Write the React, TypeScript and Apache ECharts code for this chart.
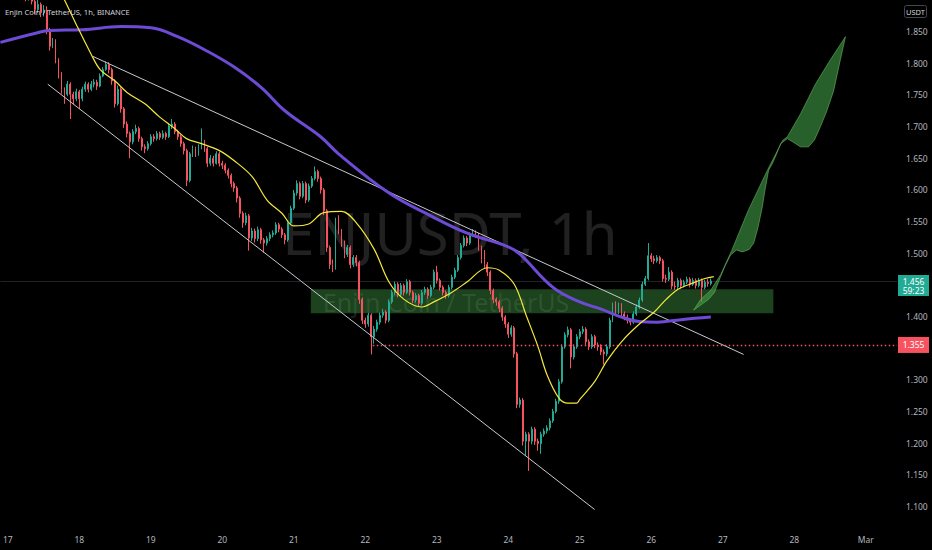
import React, { useEffect, useRef } from "react";
import * as echarts from "echarts";

// ---------- texts ----------
const SYMBOL_TITLE = "Enjin Coin / TetherUS, 1h, BINANCE";
const WATERMARK_MAIN = "ENJUSDT, 1h";
const WATERMARK_SUB = "Enjin Coin / TetherUS";
const QUOTE_CCY = "USDT";
const LAST_PRICE = 1.456;
const LAST_COUNTDOWN = "59:23";
const LEVEL_PRICE = 1.355;

// ---------- time axis: hourly slots from 16 Feb 22:00 to 1 Mar 10:00 ----------
const FIRST_SLOT_UTC = Date.UTC(2022, 1, 16, 22);
const SLOT_COUNT = 301;
const MONTH_LABELS = ["Jan", "Feb", "Mar", "Apr"];

// ---------- hourly candles: [close, low, high]; open = previous close ----------
const FIRST_OPEN = 1.945;
const hourlyCandles: number[][] = [
  [1.935, 1.925, 1.95], [1.928, 1.918, 1.94], [1.915, 1.905, 1.932], [1.922, 1.91, 1.93],
  [1.912, 1.902, 1.926], [1.918, 1.906, 1.925], [1.908, 1.9, 1.921], [1.913, 1.902, 1.918],
  [1.905, 1.898, 1.916], [1.91, 1.899, 1.915], [1.898, 1.893, 1.912], [1.885, 1.878, 1.9],
  [1.893, 1.88, 1.902], [1.88, 1.873, 1.896], [1.884, 1.874, 1.892], [1.851, 1.846, 1.89],
  [1.827, 1.82, 1.856], [1.835, 1.824, 1.84], [1.806, 1.8, 1.838], [1.783, 1.776, 1.808],
  [1.759, 1.752, 1.786], [1.751, 1.736, 1.762], [1.767, 1.748, 1.772], [1.751, 1.712, 1.77],
  [1.744, 1.735, 1.755], [1.755, 1.74, 1.76], [1.744, 1.728, 1.758], [1.759, 1.74, 1.763],
  [1.767, 1.755, 1.771], [1.759, 1.754, 1.77], [1.767, 1.756, 1.772], [1.77, 1.762, 1.775],
  [1.764, 1.758, 1.774], [1.78, 1.762, 1.784], [1.79, 1.778, 1.794], [1.798, 1.788, 1.803],
  [1.79, 1.784, 1.802], [1.772, 1.766, 1.793], [1.736, 1.73, 1.775], [1.759, 1.733, 1.765],
  [1.728, 1.722, 1.762], [1.704, 1.698, 1.731], [1.689, 1.683, 1.708], [1.676, 1.65, 1.692],
  [1.692, 1.672, 1.696], [1.697, 1.688, 1.703], [1.681, 1.676, 1.7], [1.668, 1.662, 1.684],
  [1.665, 1.658, 1.672], [1.673, 1.662, 1.677], [1.684, 1.67, 1.688], [1.681, 1.676, 1.688],
  [1.689, 1.678, 1.693], [1.683, 1.679, 1.692], [1.689, 1.68, 1.694], [1.684, 1.679, 1.692],
  [1.701, 1.682, 1.705], [1.704, 1.696, 1.712], [1.692, 1.688, 1.707], [1.684, 1.679, 1.695],
  [1.673, 1.668, 1.687], [1.662, 1.656, 1.676], [1.615, 1.606, 1.665], [1.657, 1.612, 1.66],
  [1.665, 1.652, 1.67], [1.657, 1.652, 1.668], [1.668, 1.654, 1.672], [1.676, 1.664, 1.697],
  [1.665, 1.66, 1.679], [1.642, 1.636, 1.668], [1.65, 1.638, 1.655], [1.642, 1.637, 1.654],
  [1.657, 1.64, 1.661], [1.642, 1.637, 1.66], [1.639, 1.633, 1.646], [1.631, 1.626, 1.642],
  [1.623, 1.618, 1.634], [1.61, 1.604, 1.626], [1.603, 1.597, 1.613], [1.587, 1.58, 1.606],
  [1.563, 1.556, 1.59], [1.548, 1.54, 1.566], [1.559, 1.544, 1.564], [1.524, 1.504, 1.562],
  [1.535, 1.519, 1.54], [1.523, 1.517, 1.539], [1.537, 1.519, 1.542], [1.521, 1.515, 1.54],
  [1.516, 1.501, 1.524], [1.523, 1.512, 1.527], [1.529, 1.519, 1.533], [1.532, 1.525, 1.536],
  [1.545, 1.529, 1.549], [1.538, 1.533, 1.548], [1.529, 1.524, 1.541], [1.521, 1.514, 1.532],
  [1.548, 1.518, 1.552], [1.571, 1.545, 1.575], [1.595, 1.568, 1.6], [1.61, 1.591, 1.615],
  [1.59, 1.585, 1.613], [1.61, 1.587, 1.614], [1.584, 1.579, 1.613], [1.606, 1.581, 1.61],
  [1.618, 1.603, 1.622], [1.629, 1.615, 1.637], [1.618, 1.613, 1.632], [1.6, 1.594, 1.621],
  [1.567, 1.56, 1.603], [1.509, 1.502, 1.57], [1.482, 1.475, 1.512], [1.477, 1.47, 1.49],
  [1.552, 1.474, 1.556], [1.535, 1.53, 1.56], [1.516, 1.51, 1.538], [1.498, 1.492, 1.52],
  [1.509, 1.494, 1.513], [1.482, 1.476, 1.512], [1.493, 1.478, 1.497], [1.485, 1.479, 1.497],
  [1.427, 1.42, 1.488], [1.394, 1.388, 1.43], [1.388, 1.382, 1.398], [1.402, 1.384, 1.406],
  [1.368, 1.34, 1.405], [1.38, 1.357, 1.385], [1.391, 1.376, 1.395], [1.402, 1.387, 1.406],
  [1.407, 1.398, 1.412], [1.394, 1.389, 1.41], [1.423, 1.391, 1.427], [1.438, 1.42, 1.442],
  [1.451, 1.434, 1.455], [1.435, 1.43, 1.454], [1.449, 1.432, 1.453], [1.438, 1.433, 1.452],
  [1.455, 1.435, 1.459], [1.438, 1.433, 1.458], [1.426, 1.421, 1.441], [1.433, 1.422, 1.437],
  [1.421, 1.416, 1.436], [1.438, 1.418, 1.442], [1.443, 1.434, 1.447], [1.433, 1.428, 1.446],
  [1.446, 1.43, 1.45], [1.47, 1.443, 1.474], [1.457, 1.452, 1.48], [1.446, 1.441, 1.46],
  [1.438, 1.433, 1.449], [1.433, 1.428, 1.441], [1.446, 1.43, 1.45], [1.462, 1.443, 1.466],
  [1.473, 1.459, 1.477], [1.493, 1.47, 1.497], [1.512, 1.49, 1.516], [1.524, 1.509, 1.528],
  [1.516, 1.511, 1.527], [1.529, 1.513, 1.533], [1.532, 1.526, 1.538], [1.529, 1.524, 1.536],
  [1.509, 1.504, 1.532], [1.49, 1.484, 1.512], [1.482, 1.477, 1.505], [1.47, 1.464, 1.486],
  [1.441, 1.435, 1.473], [1.427, 1.421, 1.444], [1.423, 1.417, 1.43], [1.413, 1.407, 1.426],
  [1.399, 1.393, 1.416], [1.388, 1.382, 1.402], [1.372, 1.366, 1.391], [1.382, 1.368, 1.386],
  [1.341, 1.335, 1.385], [1.261, 1.255, 1.344], [1.268, 1.256, 1.272], [1.203, 1.196, 1.271],
  [1.214, 1.18, 1.218], [1.203, 1.156, 1.217], [1.222, 1.198, 1.226], [1.203, 1.197, 1.225],
  [1.199, 1.188, 1.207], [1.214, 1.183, 1.218], [1.219, 1.21, 1.223], [1.224, 1.215, 1.228],
  [1.235, 1.22, 1.239], [1.25, 1.232, 1.254], [1.266, 1.247, 1.27], [1.297, 1.262, 1.301],
  [1.352, 1.294, 1.356], [1.371, 1.349, 1.375], [1.379, 1.367, 1.384], [1.336, 1.318, 1.382],
  [1.352, 1.332, 1.356], [1.368, 1.349, 1.372], [1.376, 1.364, 1.38], [1.38, 1.372, 1.385],
  [1.36, 1.355, 1.383], [1.352, 1.347, 1.364], [1.368, 1.349, 1.372], [1.355, 1.35, 1.371],
  [1.352, 1.346, 1.359], [1.344, 1.339, 1.356], [1.341, 1.324, 1.348], [1.352, 1.337, 1.356],
  [1.394, 1.349, 1.398], [1.418, 1.391, 1.422], [1.407, 1.402, 1.424], [1.418, 1.404, 1.422],
  [1.404, 1.399, 1.421], [1.399, 1.394, 1.408], [1.394, 1.389, 1.403], [1.391, 1.386, 1.397],
  [1.404, 1.388, 1.408], [1.415, 1.401, 1.419], [1.426, 1.412, 1.43], [1.451, 1.423, 1.455],
  [1.46, 1.448, 1.464], [1.496, 1.457, 1.516], [1.491, 1.486, 1.5], [1.488, 1.483, 1.496],
  [1.493, 1.485, 1.497], [1.488, 1.483, 1.496], [1.46, 1.455, 1.491], [1.459, 1.453, 1.466],
  [1.47, 1.456, 1.478], [1.448, 1.443, 1.473], [1.447, 1.442, 1.455], [1.457, 1.443, 1.461],
  [1.449, 1.444, 1.46], [1.454, 1.446, 1.458], [1.459, 1.451, 1.463], [1.451, 1.446, 1.462],
  [1.457, 1.448, 1.461], [1.449, 1.444, 1.46], [1.457, 1.446, 1.461], [1.446, 1.423, 1.46],
  [1.454, 1.443, 1.458], [1.452, 1.447, 1.459], [1.456, 1.449, 1.46],
];

// ---------- indicator lines: [hours since 17 Feb 00:00, price] ----------
const fastMaPoints: number[][] = [
  [16, 1.93], [23, 1.861], [28, 1.814], [31, 1.79], [36, 1.772], [40, 1.754], [46, 1.736],
  [51, 1.715], [56, 1.697], [60, 1.681], [65, 1.673], [71, 1.662], [76, 1.646], [82, 1.621],
  [87, 1.584], [92, 1.563], [96, 1.543], [101, 1.546], [106, 1.564], [112, 1.566], [117, 1.548],
  [123, 1.506], [128, 1.454], [133, 1.427], [139, 1.415], [143, 1.423], [149, 1.438],
  [154, 1.454], [161, 1.477], [165, 1.473], [170, 1.451], [174, 1.402], [178, 1.352],
  [181, 1.308], [185, 1.271], [188, 1.263], [191, 1.263], [192, 1.269], [197, 1.297],
  [201, 1.329], [206, 1.36], [212, 1.388], [217, 1.407], [221, 1.427], [225, 1.443],
  [229, 1.451], [234, 1.46], [237, 1.463],
];
const slowMaPoints: number[][] = [
  [-2.5, 1.833], [9, 1.847], [14, 1.852], [25, 1.853], [38, 1.858], [48, 1.856], [57, 1.842],
  [67, 1.819], [76, 1.794], [85, 1.762], [93, 1.725], [105, 1.684], [111, 1.657], [128, 1.595],
  [142, 1.559], [154, 1.532], [168, 1.51], [172, 1.498], [183, 1.446], [192, 1.423],
  [199, 1.412], [206, 1.399], [212, 1.392], [218, 1.391], [226, 1.395], [236, 1.399],
];

// ---------- drawings ----------
const upperTrend: number[][] = [[28.5, 1.811], [247, 1.34]];
const lowerTrend: number[][] = [[13.4, 1.767], [197, 1.095]];
const zoneFromHour = 101.7;
const zoneToHour = 257;
const zoneTop = 1.443;
const zoneBottom = 1.405;
const levelFromHour = 122.5;
const projection: number[][] = [
  [230.2, 1.41], [232.6, 1.427], [235.9, 1.441], [239.3, 1.466], [243.0, 1.504], [248.6, 1.568],
  [255.0, 1.631], [260.1, 1.678], [261.7, 1.684], [266.1, 1.72], [271.1, 1.767], [276.2, 1.806],
  [281.2, 1.842], [279.5, 1.806], [277.2, 1.756], [274.8, 1.723], [272.8, 1.7], [270.8, 1.679],
  [268.8, 1.668], [266.1, 1.668], [263.8, 1.675], [261.7, 1.681], [259.4, 1.673], [258.1, 1.657],
  [256.7, 1.642], [255.4, 1.631], [254.3, 1.603], [253.2, 1.571], [251.8, 1.54], [250.4, 1.516],
  [248.9, 1.506], [246.6, 1.502], [244.6, 1.505], [242.6, 1.497], [240.6, 1.478], [238.6, 1.455],
  [237.2, 1.438], [235.2, 1.427], [232.6, 1.418],
];

const UP = "#22ab94";
const DOWN = "#f7525f";
const TXT = "#b2b5be";
const FONT = "Noto Sans";

export default function App() {
  const ref = useRef<HTMLDivElement>(null);

  useEffect(() => {
    document.body.style.margin = "0";
    document.body.style.background = "#000";
    if (!ref.current) return;
    const chart = echarts.init(ref.current, null, { renderer: "svg" });

    const slotDates: Date[] = [];
    const categories: string[] = [];
    for (let i = 0; i < SLOT_COUNT; i++) {
      const d = new Date(FIRST_SLOT_UTC + i * 3600000);
      slotDates.push(d);
      categories.push(d.toISOString().slice(0, 13));
    }
    const ohlc = hourlyCandles.map((row, i) => {
      const open = i === 0 ? FIRST_OPEN : hourlyCandles[i - 1][0];
      return [open, row[0], row[1], row[2]];
    });

    const lastSlot = SLOT_COUNT - 3 + 0.5;

    const option: any = {
      animation: false,
      backgroundColor: "#000",
      grid: { left: 0, right: 35, top: -5, bottom: 12 },
      xAxis: [
        {
          type: "category",
          data: categories,
          boundaryGap: true,
          axisLine: { show: false },
          axisTick: { show: false },
          splitLine: { show: false },
          axisLabel: {
            color: TXT,
            fontSize: 8.5,
            fontFamily: FONT,
            margin: -3,
            interval: (idx: number) => slotDates[idx].getUTCHours() === 0,
            formatter: (_v: string, idx: number) => {
              const d = slotDates[idx];
              return d.getUTCDate() === 1 ? MONTH_LABELS[d.getUTCMonth()] : String(d.getUTCDate());
            },
          },
        },
        {
          type: "value",
          min: -2.5,
          max: lastSlot,
          show: false,
        },
      ],
      yAxis: {
        type: "value",
        position: "right",
        min: 1.05,
        max: 1.9,
        interval: 0.05,
        axisLine: { show: false },
        axisTick: { show: false },
        splitLine: { show: false },
        axisLabel: {
          color: TXT,
          fontSize: 8.5,
          fontFamily: FONT,
          margin: 9,
          showMinLabel: false,
          showMaxLabel: false,
          formatter: (v: number) => {
            const s = v.toFixed(3);
            return s === "1.450" || s === "1.350" ? "" : s;
          },
        },
      },
      series: [
        {
          type: "line",
          xAxisIndex: 1,
          data: [],
          z: 1,
          markLine: {
            silent: true,
            symbol: "none",
            label: { show: false },
            lineStyle: { color: "rgba(120,123,134,0.28)", width: 1, type: "solid" },
            data: [[{ coord: [-2.5, LAST_PRICE] }, { coord: [lastSlot, LAST_PRICE] }]],
          },
        },
        {
          type: "candlestick",
          xAxisIndex: 0,
          data: ohlc,
          barWidth: 1.4,
          z: 3,
          itemStyle: {
            color: UP,
            color0: DOWN,
            borderColor: UP,
            borderColor0: DOWN,
            borderWidth: 1,
          },
        },
        {
          type: "line",
          xAxisIndex: 1,
          data: upperTrend,
          symbol: "none",
          z: 4,
          lineStyle: { color: "#c8cad0", width: 1 },
        },
        {
          type: "line",
          xAxisIndex: 1,
          data: lowerTrend,
          symbol: "none",
          z: 4,
          lineStyle: { color: "#c8cad0", width: 1 },
        },
        {
          type: "line",
          xAxisIndex: 1,
          data: slowMaPoints,
          symbol: "none",
          smooth: 0.4,
          z: 5,
          lineStyle: { color: "#6d4bd6", width: 3 },
        },
        {
          type: "line",
          xAxisIndex: 1,
          data: fastMaPoints,
          symbol: "none",
          smooth: 0.35,
          z: 6,
          lineStyle: { color: "#f5e93b", width: 1.2 },
        },
        {
          type: "line",
          xAxisIndex: 1,
          data: [],
          z: 7,
          markArea: {
            silent: true,
            itemStyle: { color: "rgba(67,160,71,0.42)" },
            data: [[{ coord: [zoneFromHour, zoneTop] }, { coord: [zoneToHour, zoneBottom] }]],
          },
        },
        {
          type: "line",
          xAxisIndex: 1,
          data: [],
          z: 7,
          markLine: {
            silent: true,
            symbol: "none",
            label: { show: false },
            lineStyle: { color: DOWN, width: 1.3, type: [1.5, 2.5], opacity: 1 },
            data: [[{ coord: [levelFromHour, LEVEL_PRICE] }, { coord: [lastSlot, LEVEL_PRICE] }]],
          },
        },
        {
          type: "custom",
          xAxisIndex: 1,
          data: [[250, 1.6]],
          z: 8,
          renderItem: (_p: any, api: any) => ({
            type: "polygon",
            shape: { points: projection.map((pt) => api.coord(pt)) },
            style: { fill: "rgba(67,160,71,0.6)", stroke: "rgba(110,190,100,0.7)", lineWidth: 0.8 },
          }),
        },
      ],
    };
    chart.setOption(option);

    const yLast = chart.convertToPixel({ yAxisIndex: 0 }, LAST_PRICE) as number;
    const yLevel = chart.convertToPixel({ yAxisIndex: 0 }, LEVEL_PRICE) as number;

    chart.setOption({
      graphic: [
        {
          type: "text",
          x: 450,
          y: 232,
          z: -10,
          silent: true,
          style: {
            text: WATERMARK_MAIN,
            fill: "rgba(255,255,255,0.13)",
            fontSize: 58,
            fontFamily: FONT,
            align: "center",
            verticalAlign: "middle",
          },
        },
        {
          type: "text",
          x: 446,
          y: 302,
          z: -10,
          silent: true,
          style: {
            text: WATERMARK_SUB,
            fill: "rgba(255,255,255,0.13)",
            fontSize: 25,
            fontFamily: FONT,
            align: "center",
            verticalAlign: "middle",
          },
        },
        {
          type: "text",
          x: 5,
          y: 12,
          z: 100,
          style: {
            text: SYMBOL_TITLE,
            fill: "#d1d4dc",
            fontSize: 7.6,
            fontFamily: FONT,
            align: "left",
            verticalAlign: "middle",
          },
        },
        {
          type: "rect",
          z: 100,
          shape: { x: 904.5, y: 5.5, width: 22, height: 12, r: 2 },
          style: { fill: "#000", stroke: "#434651", lineWidth: 1 },
        },
        {
          type: "text",
          x: 915.5,
          y: 11.5,
          z: 101,
          style: {
            text: QUOTE_CCY,
            fill: "#d1d4dc",
            fontSize: 7.5,
            fontFamily: FONT,
            align: "center",
            verticalAlign: "middle",
          },
        },
        {
          type: "rect",
          z: 100,
          shape: { x: 898, y: yLast - 6, width: 31, height: 21 },
          style: { fill: UP },
        },
        {
          type: "text",
          x: 913.5,
          y: yLast,
          z: 101,
          style: {
            text: LAST_PRICE.toFixed(3),
            fill: "#fff",
            fontSize: 8.5,
            fontFamily: FONT,
            align: "center",
            verticalAlign: "middle",
          },
        },
        {
          type: "text",
          x: 913.5,
          y: yLast + 9.5,
          z: 101,
          style: {
            text: LAST_COUNTDOWN,
            fill: "#fff",
            fontSize: 8.5,
            fontFamily: FONT,
            align: "center",
            verticalAlign: "middle",
          },
        },
        {
          type: "rect",
          z: 100,
          shape: { x: 898, y: yLevel - 8, width: 31, height: 16 },
          style: { fill: DOWN },
        },
        {
          type: "text",
          x: 913.5,
          y: yLevel,
          z: 101,
          style: {
            text: LEVEL_PRICE.toFixed(3),
            fill: "#fff",
            fontSize: 8.5,
            fontFamily: FONT,
            align: "center",
            verticalAlign: "middle",
          },
        },
      ],
    });

    return () => chart.dispose();
  }, []);

  return (
    <div
      ref={ref}
      style={{ position: "fixed", left: 0, top: 0, width: 932, height: 550, background: "#000" }}
    />
  );
}
